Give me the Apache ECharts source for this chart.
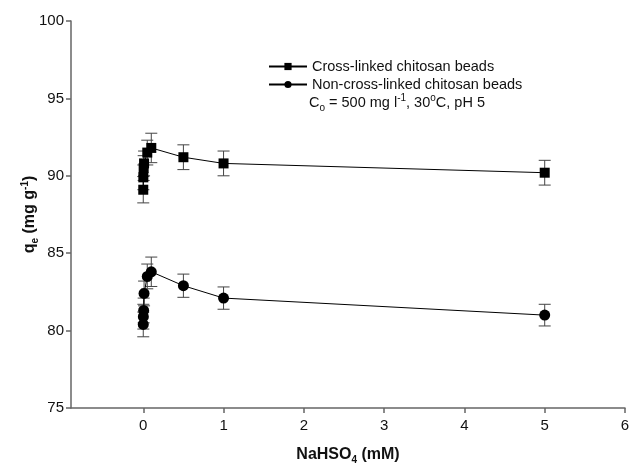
<!DOCTYPE html>
<html>
<head>
<meta charset="utf-8">
<script src="https://cdn.jsdelivr.net/npm/echarts@6/dist/echarts.min.js"></script>
<style>
    html, body { margin: 0; padding: 0; background: #fff; }
    #chart { width: 630px; height: 463px; }
</style>
</head>
<body>
<div id="chart"></div>
<script>
    // NaHSO4 concentration (mM)
    var conc = [0, 0.001, 0.005, 0.01, 0.05, 0.1, 0.5, 1, 5];
    // q_e (mg/g)
    var crossLinked = [89.1, 89.9, 90.5, 90.8, 91.5, 91.8, 91.2, 90.8, 90.2];
    var crossErr    = [0.85, 0.8, 0.8, 0.8, 0.8, 0.95, 0.8, 0.8, 0.8];
    var nonCross    = [80.4, 80.9, 81.3, 82.4, 83.5, 83.8, 82.9, 82.1, 81.0];
    var nonCrossErr = [0.8, 0.8, 0.8, 0.8, 0.8, 0.95, 0.75, 0.72, 0.7];
    var xTicks = [0, 1, 2, 3, 4, 5, 6];
    var yTicks = [75, 80, 85, 90, 95, 100];

    var font = 'Liberation Sans, Arial, sans-serif';

    function pairs(ys) {
        return conc.map(function (x, i) { return [x, ys[i]]; });
    }
    function bars(ys, err) {
        return conc.map(function (x, i) { return [x, ys[i] - err[i], ys[i] + err[i]]; });
    }

    function renderErr(params, api) {
        var x = api.value(0);
        var lo = api.coord([x, api.value(1)]);
        var hi = api.coord([x, api.value(2)]);
        var w = 6;
        var st = { stroke: '#444', lineWidth: 1 };
        return {
            type: 'group',
            children: [
                { type: 'line', shape: { x1: lo[0], y1: lo[1], x2: hi[0], y2: hi[1] }, style: st },
                { type: 'line', shape: { x1: lo[0] - w, y1: lo[1], x2: lo[0] + w, y2: lo[1] }, style: st },
                { type: 'line', shape: { x1: hi[0] - w, y1: hi[1], x2: hi[0] + w, y2: hi[1] }, style: st }
            ]
        };
    }

    var chart = echarts.init(document.getElementById('chart'));
    chart.setOption({
        animation: false,
        backgroundColor: '#fff',
        grid: { left: 71, right: 5, top: 21, bottom: 55, outerBoundsMode: 'none', containLabel: false },
        legend: {
            orient: 'vertical',
            left: 263,
            top: 54,
            itemWidth: 38,
            itemHeight: 9,
            itemGap: 3,
            data: ['Cross-linked chitosan beads', 'Non-cross-linked chitosan beads'],
            textStyle: { fontFamily: font, fontSize: 14.5, color: '#111' }
        },
        graphic: [{
            type: 'text',
            left: 309,
            top: 93,
            style: {
                text: '{n|C}{sub|o}{n| = 500 mg l}{sup|-1}{n|, 30}{sup|o}{n|C, pH 5}',
                rich: {
                    n: { fontFamily: font, fontSize: 14.5, fill: '#111', lineHeight: 20 },
                    sub: { fontFamily: font, fontSize: 10, fill: '#111', lineHeight: 20, verticalAlign: 'bottom', padding: [7, 0, 0, 0] },
                    sup: { fontFamily: font, fontSize: 10, fill: '#111', lineHeight: 20, verticalAlign: 'top', padding: [0, 0, 7, 0] }
                }
            }
        }],
        xAxis: {
            type: 'value',
            min: -0.9,
            max: 6,
            name: '{b|NaHSO}{sub|4}{b| (mM)}',
            nameLocation: 'middle',
            nameGap: 37,
            nameMoveOverlap: false,
            nameTextStyle: {
                rich: {
                    b: { fontFamily: font, fontSize: 16, fontWeight: 'bold', color: '#111', lineHeight: 20 },
                    sub: { fontFamily: font, fontSize: 10, fontWeight: 'bold', color: '#111', lineHeight: 20, verticalAlign: 'bottom', padding: [7, 0, 0, 0] }
                }
            },
            splitLine: { show: false },
            axisLine: { onZero: false, lineStyle: { color: '#666', width: 1.5 } },
            axisTick: { inside: false, length: 5, customValues: xTicks, lineStyle: { color: '#666', width: 1.5 } },
            axisLabel: { customValues: xTicks, fontFamily: font, fontSize: 15, color: '#111', margin: 10 }
        },
        yAxis: {
            type: 'value',
            min: 75,
            max: 100,
            interval: 5,
            name: '{b|q}{sub|e}{b| (mg g}{sup|-1}{b|)}',
            nameLocation: 'middle',
            nameRotate: 90,
            nameGap: 31,
            nameMoveOverlap: false,
            nameTextStyle: {
                rich: {
                    b: { fontFamily: font, fontSize: 16, fontWeight: 'bold', color: '#111', lineHeight: 20 },
                    sub: { fontFamily: font, fontSize: 10, fontWeight: 'bold', color: '#111', lineHeight: 20, verticalAlign: 'bottom', padding: [7, 0, 0, 0] },
                    sup: { fontFamily: font, fontSize: 10, fontWeight: 'bold', color: '#111', lineHeight: 20, verticalAlign: 'top', padding: [0, 0, 7, 0] }
                }
            },
            splitLine: { show: false },
            axisLine: { show: true, onZero: false, lineStyle: { color: '#666', width: 1.5 } },
            axisTick: { show: true, length: 5, lineStyle: { color: '#666', width: 1.5 } },
            axisLabel: {
                fontFamily: font, fontSize: 15, color: '#111', margin: 7,
                formatter: function (v) { return yTicks.indexOf(v) >= 0 ? String(v) : ''; }
            }
        },
        series: [
            {
                name: 'Cross-linked chitosan beads',
                type: 'line',
                data: pairs(crossLinked),
                symbol: 'rect',
                symbolSize: 10,
                itemStyle: { color: '#000' },
                lineStyle: { color: '#000', width: 1 },
                z: 3
            },
            {
                name: 'Non-cross-linked chitosan beads',
                type: 'line',
                data: pairs(nonCross),
                symbol: 'circle',
                symbolSize: 11,
                itemStyle: { color: '#000' },
                lineStyle: { color: '#000', width: 1 },
                z: 3
            },
            {
                type: 'custom',
                renderItem: renderErr,
                data: bars(crossLinked, crossErr),
                encode: { x: 0, y: [1, 2] },
                z: 2
            },
            {
                type: 'custom',
                renderItem: renderErr,
                data: bars(nonCross, nonCrossErr),
                encode: { x: 0, y: [1, 2] },
                z: 2
            }
        ]
    });
</script>
</body>
</html>
